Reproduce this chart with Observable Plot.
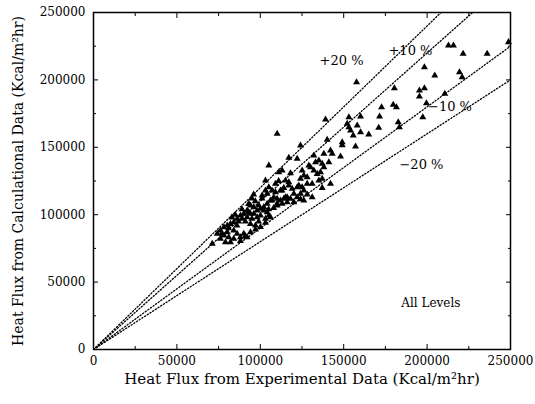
<!DOCTYPE html>
<html><head><meta charset="utf-8">
<script src="https://cdn.jsdelivr.net/npm/d3@7"></script>
<script src="https://cdn.jsdelivr.net/npm/@observablehq/plot@0.6"></script>
<style>body{margin:0;background:#fff;} svg{display:block;}</style>
</head><body><div id="chart"></div>
<script>
// Experimental heat flux (x) and calculated heat flux (y), Kcal/m²hr
const expFlux = [212800,215800,221600,236000,248800,198400,204600,219400,221000,157700,180400,195400,198400,195400,210600,172700,179700,181600,199600,171500,160100,197400,182700,183400,171000,158100,160100,165000,155700,157100,110100,139100,153100,152100,153100,154100,149100,149100,124100,140100,117100,122100,105100,132100,138100,142100,143100,148100,133100,135100,137100,138100,141100,130100,132100,134100,136100,125100,126100,124100,128100,129100,111100,113100,118100,137100,135100,142100,131100,115100,123100,125100,126100,117100,119100,114100,112100,109100,120100,122100,124100,116100,114100,112100,110100,108100,106100,104100,102100,105100,131100,126100,137100,103100,109100,103100,101100,104100,117100,122100,128100,110100,115100,118100,107100,110100,113100,116100,120100,124100,128100,94100,96100,98100,100100,102100,104100,105100,92100,90100,88100,89100,92100,94100,86100,84100,82100,80200,78200,76100,74200,96100,98100,100100,103100,106100,94100,97100,100100,103100,84100,86100,88100,90100,92100,80200,81100,78200,76100,79100,82100,84100,88100,91100,94100,97100,71200,85000,87000,89000,91000,93000,95000,97000,99000,101000,83000,81000,77000,86000,95000,99000,105000,107000,108000,111000,113000,96000,93000];
const calcFlux = [225500,225500,219400,219400,228000,209400,203300,205700,202000,198300,193800,192100,193800,187700,189700,179700,181500,179700,182700,172800,172800,172300,168600,164900,164500,166200,161200,159500,158700,150600,160000,170600,172300,167400,164900,162500,153800,151600,151300,155600,142200,141500,136500,143900,145200,147600,145200,143200,138900,140200,137800,135200,138900,135200,132800,130300,131500,132800,129100,126600,127800,136500,131500,132800,130800,126600,125400,122900,122900,125400,121700,120400,117900,121700,119200,119900,117900,116700,115500,113000,115500,113000,111800,110500,108100,113000,110500,108100,105600,120400,113000,110500,119900,125400,122900,117900,114200,115500,124100,120400,122900,111800,113000,111800,110500,106800,108100,109300,109300,111500,115000,106800,105600,103100,104400,103100,101800,99400,103100,100700,99400,97000,98100,100700,97000,94400,93200,92000,90700,88300,85800,100700,98100,99400,97000,98100,93200,92000,90900,94000,88300,85800,83300,85800,83300,87000,83300,84600,82100,79600,79600,82100,80500,84000,87000,89000,78400,100000,95000,104000,95000,108000,97000,110000,107000,112000,98000,90000,86000,92000,112000,95000,104000,118000,105000,125000,118000,115000,102000];

// Reference deviation lines (ratio of calculated to experimental)
const refRatios = [1.2, 1.1, 0.9, 0.8];
const refLabels = ["+20 %", "+10 %", "\u221210 %", "\u221220 %"];
const refLabelX = [148700, 190000, 213700, 196600];
const refLabelY = [214400, 221800, 179700, 137200];

const noteText = "All Levels";
const noteX = 220000, noteY = 34100;

const majorTicks = [0, 50000, 100000, 150000, 200000, 250000];
const minorTicks = [25000, 75000, 125000, 175000, 225000];
const axisMax = 250000;

const xLabel = "Heat Flux from Experimental Data (Kcal/m\u00B2hr)";
const yLabel = "Heat Flux from Calculational Data (Kcal/m\u00B2hr)";

const points = expFlux.map((x, i) => ({x, y: calcFlux[i]}));
const refLines = refRatios.flatMap((r, i) => [
  {k: i, x: 0, y: 0},
  {k: i, x: axisMax, y: r * axisMax}
]);
const refText = refLabels.map((t, i) => ({t, x: refLabelX[i], y: refLabelY[i]}));

const font = "DejaVu Serif";
const noLabel = () => "";

const chart = Plot.plot({
  width: 535,
  height: 404,
  marginLeft: 93,
  marginRight: 25,
  marginTop: 12,
  marginBottom: 55,
  style: {fontFamily: font, fontSize: "12px", color: "#000", background: "#fff"},
  x: {domain: [0, axisMax]},
  y: {domain: [0, axisMax]},
  marks: [
    Plot.line(refLines, {x: "x", y: "y", z: "k", stroke: "#000", strokeWidth: 1.3, strokeDasharray: "1.2,2", clip: true}),
    Plot.dot(points, {x: "x", y: "y", symbol: "triangle", r: 2.6, fill: "#000", stroke: "none"}),
    Plot.text(refText, {x: "x", y: "y", text: "t", fontSize: 13, fill: "#000"}),
    Plot.text([noteText], {x: () => noteX, y: () => noteY, text: d => d, textAnchor: "end", fontSize: 12, fill: "#000"}),
    Plot.axisX({anchor: "bottom", ticks: majorTicks, tickSize: -5, tickPadding: 12, tickFormat: d => String(d), label: null, fontSize: 12}),
    Plot.axisX({anchor: "bottom", ticks: minorTicks, tickSize: -3, tickFormat: noLabel, label: null}),
    Plot.axisX({anchor: "top", ticks: majorTicks, tickSize: -5, tickFormat: noLabel, label: null}),
    Plot.axisX({anchor: "top", ticks: minorTicks, tickSize: -3, tickFormat: noLabel, label: null}),
    Plot.axisY({anchor: "left", ticks: majorTicks, tickSize: -5, tickPadding: 13, tickFormat: d => String(d), label: null, fontSize: 12}),
    Plot.axisY({anchor: "left", ticks: minorTicks, tickSize: -3, tickFormat: noLabel, label: null}),
    Plot.axisY({anchor: "right", ticks: majorTicks, tickSize: -5, tickFormat: noLabel, label: null}),
    Plot.axisY({anchor: "right", ticks: minorTicks, tickSize: -3, tickFormat: noLabel, label: null}),
    Plot.frame({stroke: "#000", strokeWidth: 1.5}),
    Plot.text([xLabel], {frameAnchor: "bottom", dy: 34, text: d => d, textAnchor: "middle", fontSize: 15, fill: "#000"}),
    Plot.text([yLabel], {frameAnchor: "left", dx: -75, rotate: -90, text: d => d, textAnchor: "middle", fontSize: 14, fill: "#000"})
  ]
});
document.getElementById("chart").appendChild(chart);
</script>
</body></html>
